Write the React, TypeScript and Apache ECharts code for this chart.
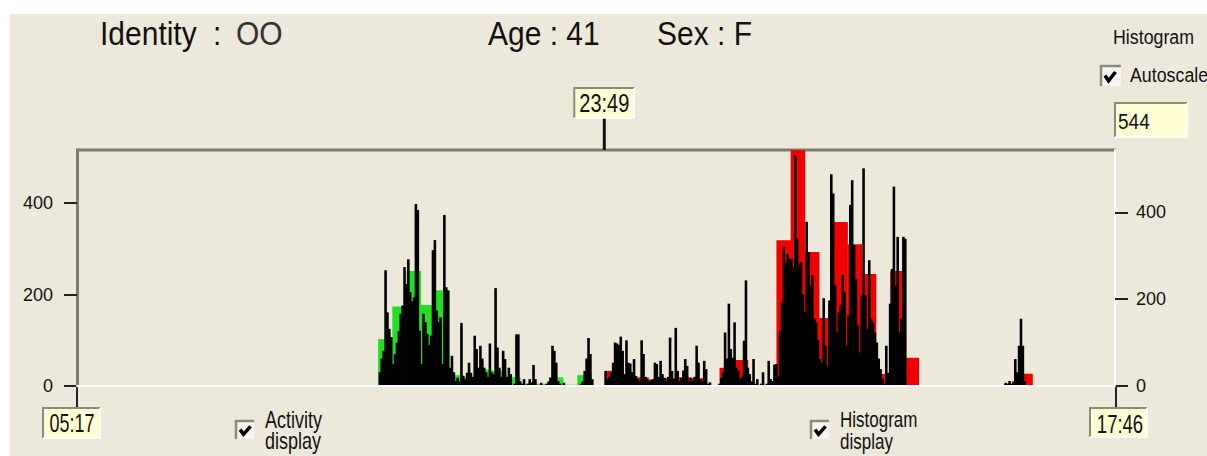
import { useEffect, useRef } from 'react';
import * as echarts from 'echarts';

// ---------- data ----------
const START_CLOCK = '05:17';
const END_CLOCK = '17:46'; // next day
const MARKER_CLOCK = '23:49';
const IDENTITY = 'OO';
const AGE = '41';
const SEX = 'F';
const AUTOSCALE_VALUE = '544';

const leftTicks = [0, 200, 400];
const rightTicks = [0, 200, 400];
const ACTIVITY_MAX = 516;
const HISTOGRAM_MAX = 544;

const EPOCH_MIN = 4;
const activityEveningStart = '15:49';
const activityEvening = [
  0, 30, 60, 77, 253, 161, 125, 107, 48, 70,
  95, 120, 158, 176, 260, 223, 277, 205, 185, 194,
  398, 385, 121, 48, 158, 140, 114, 90, 110, 297,
  319, 165, 140, 150, 48, 374, 216, 209, 40, 66,
  30, 11, 18, 10, 138, 22, 15, 29, 51, 29,
  20, 110, 81, 40, 88, 60, 40, 30, 20, 93,
  30, 26, 214, 84, 40, 20, 77, 59, 20, 40,
  26, 0, 5, 113, 113, 10, 5, 15, 0, 5,
  15, 8, 46, 15, 0, 0, 7, 0, 0, 5,
  10, 18, 88, 77, 51, 11, 5, 0, 7, 0,
  0, 0, 0, 0, 0, 0, 0, 5, 10, 33,
  60, 105, 70, 15, 0, 0, 0, 0, 0, 0,
];
const activityNightStart = '23:49';
const activityNight = [
  33, 15, 20, 30, 51, 95, 93, 90, 108, 77,
  26, 100, 51, 49, 30, 59, 22, 15, 10, 100,
  70, 20, 15, 10, 13, 15, 51, 48, 20, 55,
  26, 18, 10, 20, 106, 33, 15, 127, 33, 10,
  18, 34, 59, 44, 10, 18, 10, 20, 88, 51,
  15, 10, 55, 37, 5, 8, 0, 0, 0, 0,
  5, 18, 30, 117, 60, 180, 81, 62, 139, 40,
  33, 15, 20, 99, 231, 40, 26, 10, 59, 5,
  15, 0, 5, 30, 0, 5, 55, 15, 11, 47,
  48, 20, 120, 183, 304, 270, 289, 278, 278, 260,
  505, 322, 265, 271, 200, 161, 359, 293, 220, 242,
  147, 139, 100, 59, 51, 192, 88, 44, 187, 463,
  421, 220, 117, 161, 176, 242, 205, 88, 154, 396,
  450, 308, 234, 132, 73, 198, 476, 198, 125, 275,
  147, 139, 117, 95, 60, 37, 15, 5, 88, 29,
  180, 256, 436, 220, 326, 117, 147, 326, 322, 0,
];
const activityAfternoonStart = '13:49'; // next day
const activityAfternoon = [0, 7, 5, 11, 5, 10, 59, 30, 88, 147, 88, 11];

const BIN_MIN = 30;
const dayHistogramStart = '15:52';
const dayHistogram = [108, 183, 265, 187, 221, 25, 20, 38, 35, 20, 5, 5, 20, 3, 25, 0];
const nightHistogramStart = '23:52';
const nightHistogram = [
  35, 25, 20, 15, 18, 20, 18, 0, 42, 60,
  0, 0, 336, 544, 309, 157, 378, 327, 258, 28,
  265, 65, 0, 0, 0, 0, 0, 0, 5, 28,
];

// ---------- helpers ----------
function toMinutes(clock: string, dayOffset = 0) {
  const [h, m] = clock.split(':').map(Number);
  const [sh, sm] = START_CLOCK.split(':').map(Number);
  return h * 60 + m + dayOffset * 1440 - (sh * 60 + sm);
}
const SPAN = toMinutes(END_CLOCK, 1);

const FONT = "'Liberation Sans', Arial, sans-serif";
const BG = '#ECE9DA';
const FRAME = '#7f7c6c';
const BOX_FILL = '#FEFED2';
const GREEN = '#20E020';
const RED = '#F20000';

function segData(start: number, values: number[], step: number) {
  return values.map((v, i) => [start + i * step, v, step]);
}

const activityData = [
  ...segData(toMinutes(activityEveningStart), activityEvening, EPOCH_MIN),
  ...segData(toMinutes(activityNightStart), activityNight, EPOCH_MIN),
  ...segData(toMinutes(activityAfternoonStart, 1), activityAfternoon, EPOCH_MIN),
];
const dayHistData = segData(toMinutes(dayHistogramStart), dayHistogram, BIN_MIN);
const nightHistData = segData(toMinutes(nightHistogramStart), nightHistogram, BIN_MIN);

function rectRenderer(color: string, overlap: number) {
  return (_params: any, api: any) => {
    const x0 = api.value(0);
    const v = api.value(1);
    const w = api.value(2);
    if (!v) return null;
    const top = api.coord([x0, v]);
    const bot = api.coord([x0 + w, 0]);
    return {
      type: 'rect',
      shape: { x: top[0], y: top[1], width: bot[0] - top[0] + overlap, height: bot[1] - top[1] },
      style: { fill: color },
    };
  };
}

function txt(text: string, x: number, y: number, size: number, sy = 1, align = 'left', fill = '#111') {
  return {
    type: 'text',
    x,
    y,
    scaleY: sy,
    silent: true,
    style: {
      text,
      fontSize: size,
      fontFamily: FONT,
      fill,
      align,
      textAlign: align,
      verticalAlign: 'middle',
      textVerticalAlign: 'middle',
    },
  };
}

function box(x: number, y: number, w: number, h: number) {
  return [
    { type: 'rect', silent: true, shape: { x, y, width: w, height: h }, style: { fill: BOX_FILL } },
    { type: 'polyline', silent: true, shape: { points: [[x, y + h], [x, y], [x + w, y]] }, style: { stroke: '#8c8a7c', lineWidth: 2, fill: null } },
    { type: 'polyline', silent: true, shape: { points: [[x + w, y], [x + w, y + h], [x, y + h]] }, style: { stroke: '#ffffff', lineWidth: 1.5, fill: null } },
  ];
}

function checkbox(x: number, y: number, s = 18) {
  return [
    { type: 'rect', silent: true, shape: { x, y, width: s, height: s }, style: { fill: '#F6F5F0' } },
    { type: 'polyline', silent: true, shape: { points: [[x, y + s], [x, y], [x + s, y]] }, style: { stroke: '#8c8a7c', lineWidth: 2.5, fill: null } },
    { type: 'polyline', silent: true, shape: { points: [[x + 4, y + s * 0.48], [x + 7.5, y + s * 0.74], [x + 14.5, y + s * 0.3]] }, style: { stroke: '#000', lineWidth: 3.5, fill: null } },
  ];
}

export default function App() {
  const ref = useRef<HTMLDivElement>(null);
  useEffect(() => {
    if (!ref.current) return;
    const chart = echarts.init(ref.current, undefined, { renderer: 'svg' });
    const axisLabelBase = { fontSize: 18, fontFamily: FONT, color: '#111' };
    chart.setOption({
      animation: false,
      backgroundColor: BG,
      grid: { left: 77, right: 92, top: 150, bottom: 70, show: false },
      xAxis: {
        type: 'value',
        min: 0,
        max: SPAN,
        z: 10,
        axisLine: { show: true, lineStyle: { color: '#ffffff', width: 2 } },
        axisTick: { show: false },
        axisLabel: { show: false },
        splitLine: { show: false },
      },
      yAxis: [
        {
          type: 'value',
          position: 'left',
          min: 0,
          max: ACTIVITY_MAX,
          interval: 200,
          axisLine: { show: true, lineStyle: { color: FRAME, width: 3 } },
          axisTick: { show: true, length: 13, customValues: leftTicks, lineStyle: { color: '#222', width: 2 } },
          axisLabel: { ...axisLabelBase, customValues: leftTicks, margin: 24 },
          splitLine: { show: false },
        },
        {
          type: 'value',
          position: 'right',
          min: 0,
          max: HISTOGRAM_MAX,
          interval: 200,
          axisLine: { show: true, lineStyle: { color: '#ffffff', width: 2 } },
          axisTick: { show: true, length: 13, customValues: rightTicks, lineStyle: { color: '#222', width: 2 } },
          axisLabel: { ...axisLabelBase, customValues: rightTicks, margin: 21 },
          splitLine: { show: false },
        },
      ],
      series: [
        { name: 'Day histogram', type: 'custom', yAxisIndex: 1, renderItem: rectRenderer(GREEN, 0.3), data: dayHistData, encode: { x: 0, y: 1 }, z: 2 },
        { name: 'Night histogram', type: 'custom', yAxisIndex: 1, renderItem: rectRenderer(RED, 0.3), data: nightHistData, encode: { x: 0, y: 1 }, z: 2 },
        { name: 'Activity', type: 'custom', yAxisIndex: 0, renderItem: rectRenderer('#000000', 0.7), data: activityData, encode: { x: 0, y: 1 }, z: 3 },
      ],
    });

    const mx = chart.convertToPixel({ xAxisIndex: 0 }, toMinutes(MARKER_CLOCK)) as number;
    const x0 = chart.convertToPixel({ xAxisIndex: 0 }, 0) as number;
    const x1 = chart.convertToPixel({ xAxisIndex: 0 }, SPAN) as number;
    const yTop = chart.convertToPixel({ yAxisIndex: 0 }, ACTIVITY_MAX) as number;
    const yZero = chart.convertToPixel({ yAxisIndex: 0 }, 0) as number;

    const graphic: any[] = [
      { type: 'rect', silent: true, shape: { x: 0, y: 0, width: 1207, height: 14 }, style: { fill: '#ffffff' } },
      { type: 'rect', silent: true, shape: { x: 0, y: 0, width: 10, height: 456 }, style: { fill: '#ffffff' } },
      { type: 'line', silent: true, shape: { x1: x0 - 1, y1: yTop, x2: x1 + 1, y2: yTop }, style: { stroke: FRAME, lineWidth: 3 } },
      { type: 'line', silent: true, shape: { x1: x0, y1: yZero, x2: x0, y2: 408 }, style: { stroke: '#222', lineWidth: 2 } },
      { type: 'line', silent: true, shape: { x1: x1 + 1, y1: yZero, x2: x1 + 1, y2: 408 }, style: { stroke: '#222', lineWidth: 2 } },
      { type: 'line', silent: true, shape: { x1: mx, y1: 118, x2: mx, y2: yTop }, style: { stroke: '#111', lineWidth: 3 } },
      ...box(mx - 30, 88, 60, 30),
      txt(MARKER_CLOCK, mx, 104, 20, 1.25, 'center'),
      ...box(43, 408, 57, 30),
      txt(START_CLOCK, 72, 423, 18, 1.4, 'center'),
      ...box(1090, 408, 57, 29),
      txt(END_CLOCK, 1120, 424, 18.5, 1.4, 'center'),
      txt('Identity', 100, 33, 30, 1.12),
      txt(':', 213, 33, 30, 1.12),
      txt(IDENTITY, 236, 33, 30, 1.12, 'left', '#333'),
      txt('Age : ' + AGE, 488, 33, 30, 1.12),
      txt('Sex : ' + SEX, 657, 33, 30, 1.12),
      txt('Histogram', 1113, 36, 17.8, 1.18),
      ...checkbox(1101, 66, 20),
      txt('Autoscale', 1130, 74, 17.8, 1.18),
      ...box(1115, 103, 72, 34),
      txt(AUTOSCALE_VALUE, 1118, 121, 19, 1.15),
      ...checkbox(236, 421),
      txt('Activity', 265, 420, 18, 1.3),
      txt('display', 265, 441, 18, 1.3),
      ...checkbox(811, 421),
      txt('Histogram', 840, 419, 17, 1.3),
      txt('display', 840, 441, 17, 1.3),
    ];
    chart.setOption({ graphic });

    return () => chart.dispose();
  }, []);

  return <div ref={ref} style={{ position: 'fixed', left: 0, top: 0, width: 1207, height: 456 }} />;
}
